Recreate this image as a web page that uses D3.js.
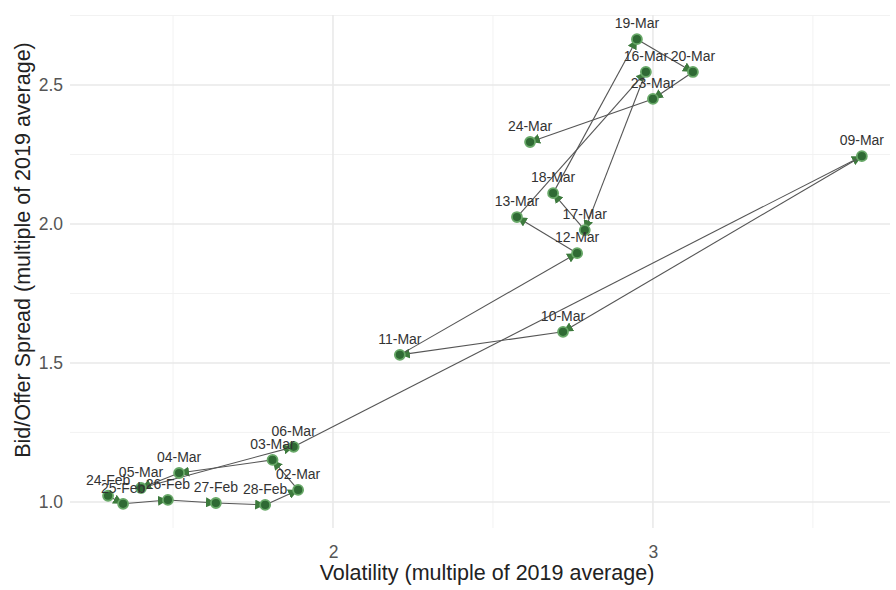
<!DOCTYPE html>
<html>
<head>
<meta charset="utf-8">
<script src="https://cdn.jsdelivr.net/npm/d3@7/dist/d3.min.js"></script>
<style>
  html, body { margin: 0; padding: 0; background: #fff; }
  svg { display: block; }
  text { font-family: "Liberation Sans", Arial, sans-serif; }
</style>
</head>
<body>
<svg id="chart" width="896" height="590"></svg>
<script>
// ---- Data ----
const dates = ["24-Feb","25-Feb","26-Feb","27-Feb","28-Feb","02-Mar","03-Mar","04-Mar","05-Mar","06-Mar",
               "09-Mar","10-Mar","11-Mar","12-Mar","13-Mar","16-Mar","17-Mar","18-Mar","19-Mar","20-Mar",
               "23-Mar","24-Mar"];
const volatility = [1.297,1.344,1.484,1.634,1.788,1.891,1.811,1.519,1.400,1.877,
                    3.653,2.719,2.209,2.763,2.575,2.978,2.787,2.688,2.950,3.125,
                    3.000,2.616];
const spread = [1.022,0.993,1.007,0.996,0.989,1.043,1.151,1.104,1.050,1.198,
                2.244,1.612,1.529,1.895,2.025,2.547,1.978,2.111,2.665,2.547,
                2.450,2.295];
const xMajorTicks = [2, 3];
const xMinorTicks = [1.5, 2.5, 3.5];
const yMajorTicks = [1.0, 1.5, 2.0, 2.5];
const yMinorTicks = [1.25, 1.75, 2.25, 2.75];
const xTitle = "Volatility (multiple of 2019 average)";
const yTitle = "Bid/Offer Spread (multiple of 2019 average)";

const rows = dates.map((d, i) => ({ date: d, x: volatility[i], y: spread[i] }));

// ---- Layout ----
const svg = d3.select("#chart");
const margin = { left: 70, right: 6, top: 15, bottom: 62 };
const W = 896, H = 590;
const x = d3.scaleLinear().domain([1.178, 3.741]).range([margin.left, W - margin.right]);
const y = d3.scaleLinear().domain([0.906, 2.752]).range([H - margin.bottom, margin.top]);

const grid = svg.append("g");
// minor grid
grid.selectAll("line.xminor").data(xMinorTicks).join("line")
  .attr("x1", d => x(d)).attr("x2", d => x(d))
  .attr("y1", y.range()[0]).attr("y2", y.range()[1])
  .attr("stroke", "#f2f2f2").attr("stroke-width", 1);
grid.selectAll("line.yminor").data(yMinorTicks).join("line")
  .attr("y1", d => y(d)).attr("y2", d => y(d))
  .attr("x1", x.range()[0]).attr("x2", x.range()[1])
  .attr("stroke", "#f2f2f2").attr("stroke-width", 1);
// major grid
grid.selectAll("line.xmajor").data(xMajorTicks).join("line")
  .attr("x1", d => x(d)).attr("x2", d => x(d))
  .attr("y1", y.range()[0]).attr("y2", y.range()[1])
  .attr("stroke", "#e8e8e8").attr("stroke-width", 1.5);
grid.selectAll("line.ymajor").data(yMajorTicks).join("line")
  .attr("y1", d => y(d)).attr("y2", d => y(d))
  .attr("x1", x.range()[0]).attr("x2", x.range()[1])
  .attr("stroke", "#e8e8e8").attr("stroke-width", 1.5);

// axes (text only, like ggplot minimal theme)
const xAxis = d3.axisBottom(x).tickValues(xMajorTicks).tickFormat(d3.format("d")).tickSize(0).tickPadding(18);
svg.append("g").attr("transform", `translate(0,${y.range()[0]})`).call(xAxis)
  .call(g => g.select(".domain").remove())
  .call(g => g.selectAll("text").attr("fill", "#555").style("font-size", "17.5px")
    .style("font-family", "'Liberation Sans', Arial, sans-serif"));
const yAxis = d3.axisLeft(y).tickValues(yMajorTicks).tickFormat(d3.format(".1f")).tickSize(0).tickPadding(7);
svg.append("g").attr("transform", `translate(${x.range()[0]},0)`).call(yAxis)
  .call(g => g.select(".domain").remove())
  .call(g => g.selectAll("text").attr("fill", "#555").style("font-size", "17.5px")
    .style("font-family", "'Liberation Sans', Arial, sans-serif"));

// axis titles
svg.append("text").attr("x", (x.range()[0] + x.range()[1]) / 2 + 7).attr("y", 580)
  .attr("text-anchor", "middle").attr("fill", "#222").style("font-size", "21.5px").text(xTitle);
svg.append("text")
  .attr("transform", `translate(30,250) rotate(-90)`)
  .attr("text-anchor", "middle").attr("fill", "#222").style("font-size", "21.5px").text(yTitle);

// arrow marker
svg.append("defs").append("marker")
  .attr("id", "arrow").attr("viewBox", "0 0 10 10")
  .attr("refX", 10).attr("refY", 5)
  .attr("markerWidth", 10).attr("markerHeight", 10)
  .attr("markerUnits", "userSpaceOnUse")
  .attr("orient", "auto")
  .append("path").attr("d", "M0,0 L10,5 L0,10 Z").attr("fill", "#3d7a3d");

// path segments with arrows
const segs = d3.pairs(rows);
svg.append("g").selectAll("line").data(segs).join("line")
  .attr("x1", d => x(d[0].x)).attr("y1", d => y(d[0].y))
  .attr("x2", d => x(d[1].x)).attr("y2", d => y(d[1].y))
  .attr("stroke", "#555").attr("stroke-width", 1.1)
  .attr("marker-end", "url(#arrow)");

// points
svg.append("g").selectAll("circle").data(rows).join("circle")
  .attr("cx", d => x(d.x)).attr("cy", d => y(d.y)).attr("r", 5)
  .attr("fill", "#2f6a34").attr("stroke", "#67a867").attr("stroke-width", 1.8);

// labels
svg.append("g").selectAll("text").data(rows).join("text")
  .attr("x", d => x(d.x)).attr("y", d => y(d.y) - 11)
  .attr("text-anchor", "middle").attr("fill", "#333")
  .style("font-size", "14px").text(d => d.date);
</script>
</body>
</html>
